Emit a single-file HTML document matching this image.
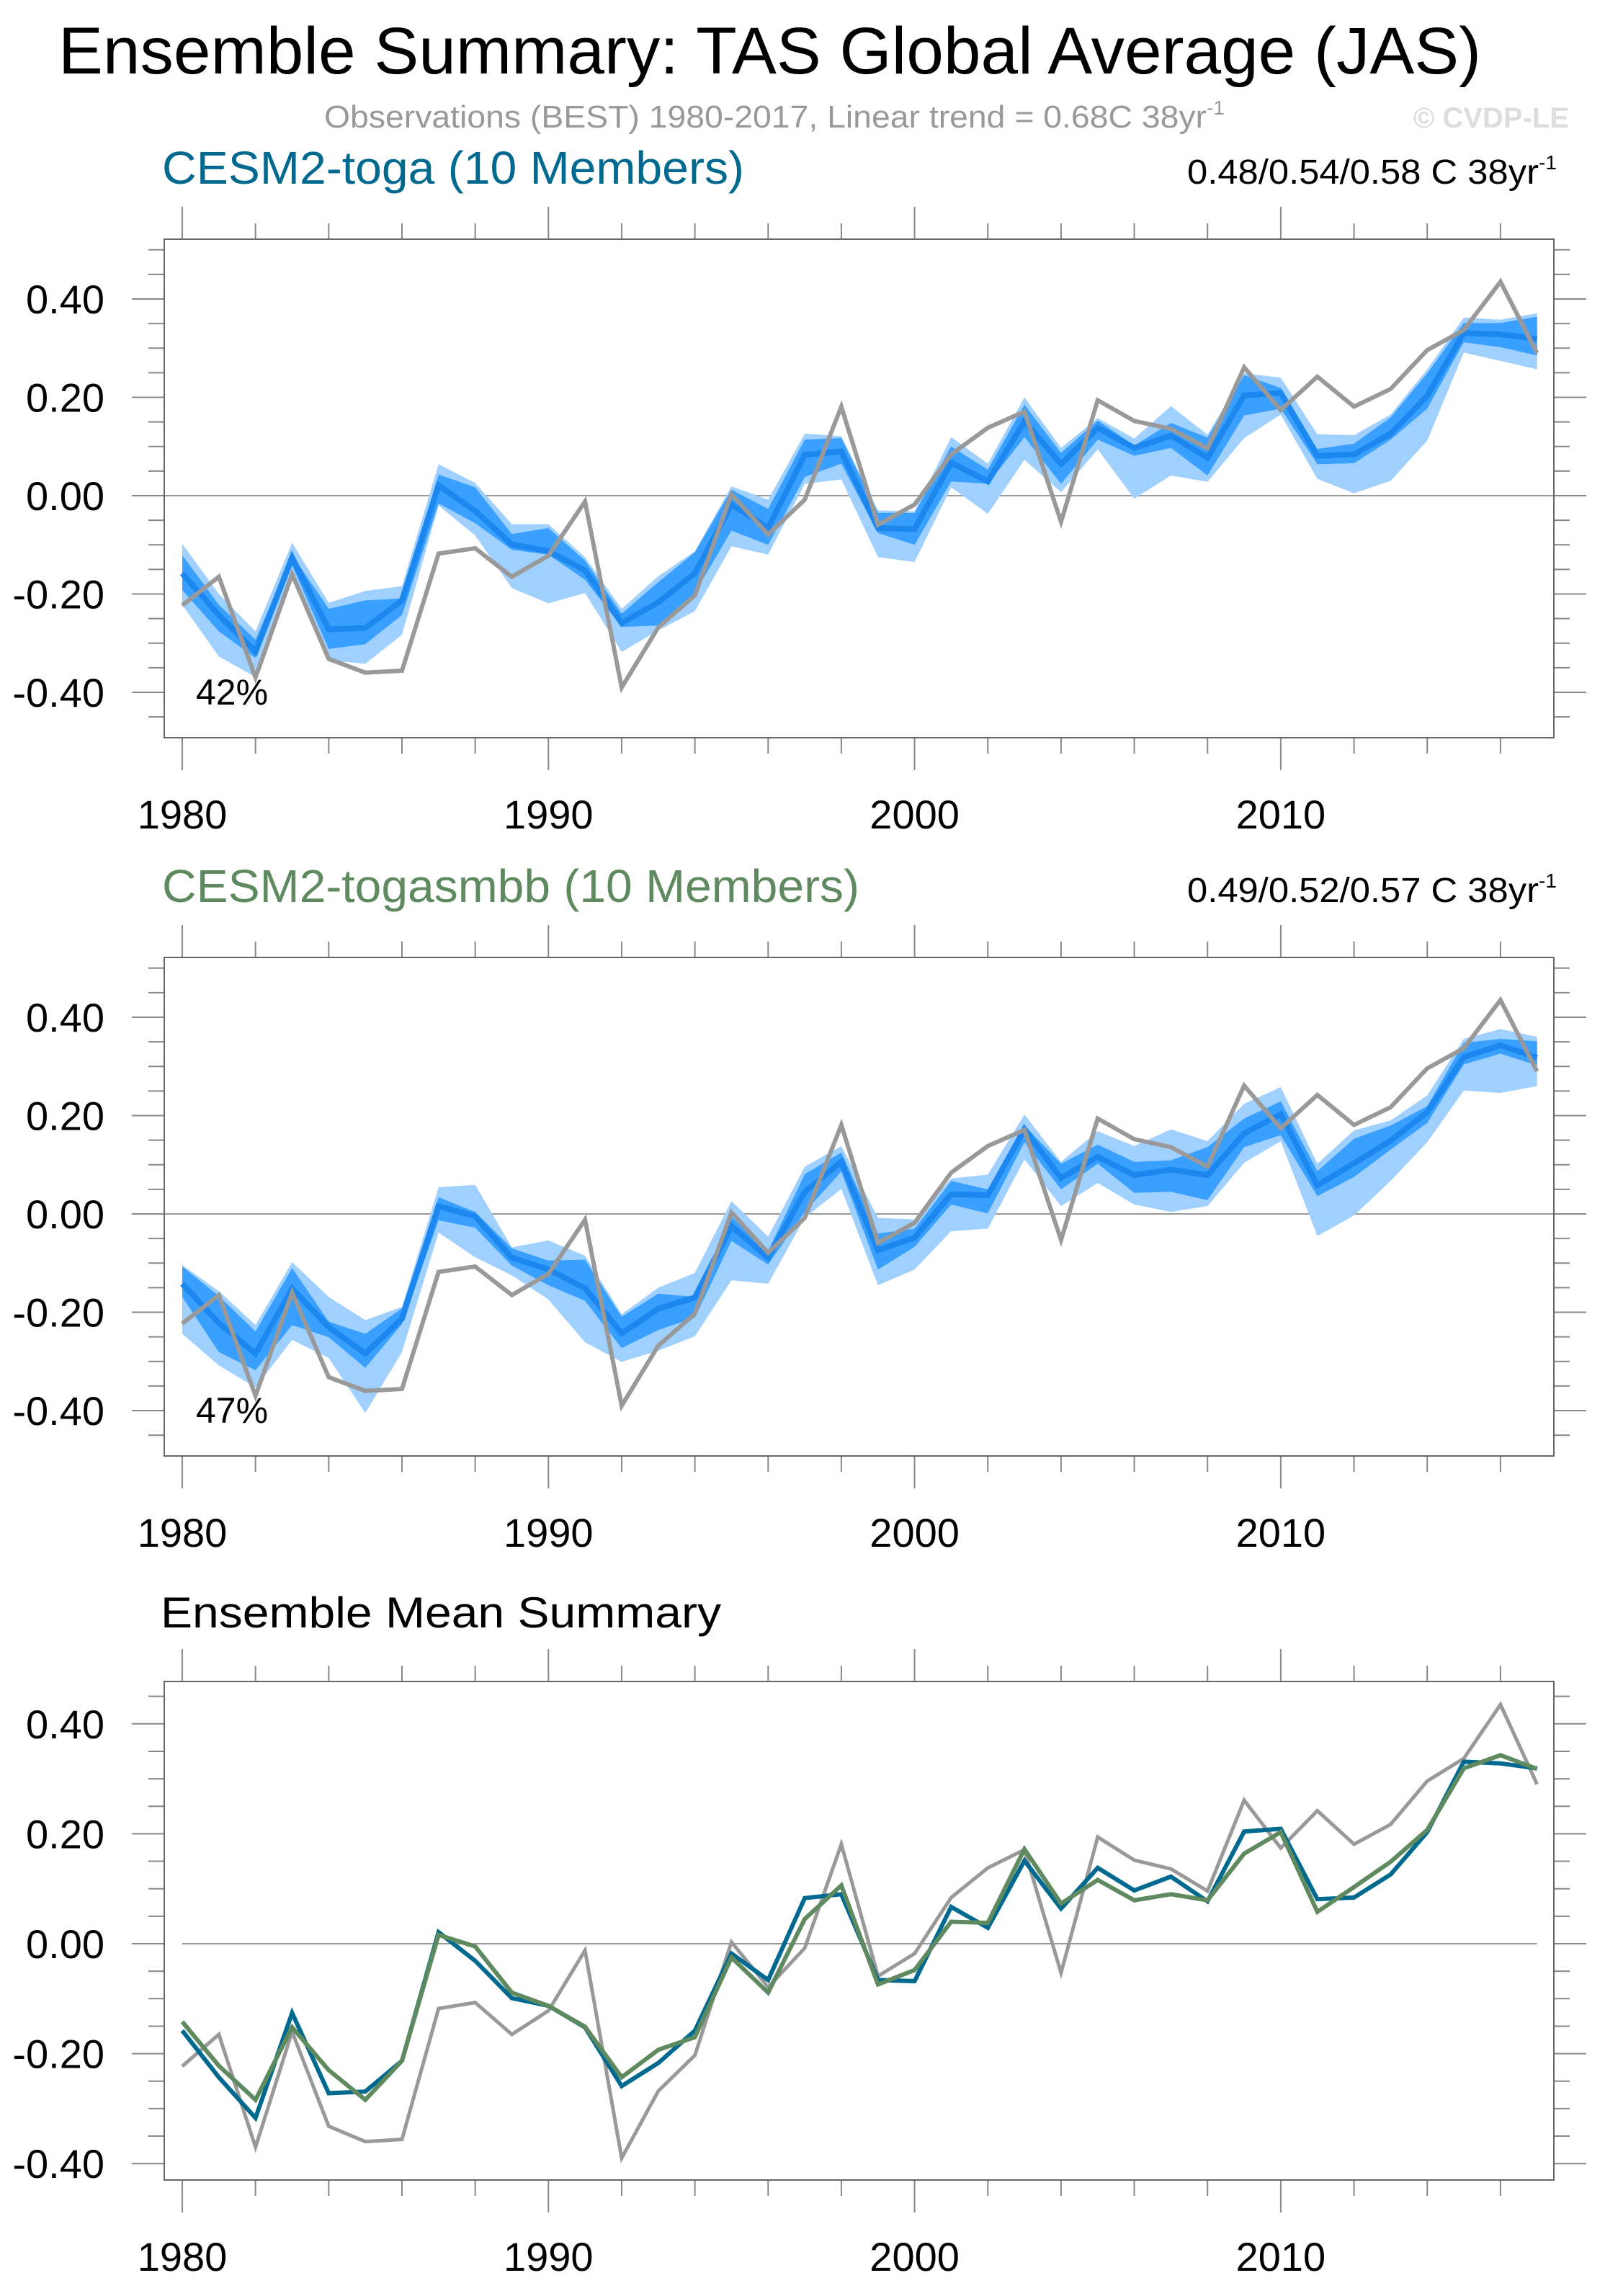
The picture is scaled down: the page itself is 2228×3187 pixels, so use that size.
<!DOCTYPE html>
<html><head><meta charset="utf-8"><title>Ensemble Summary</title>
<style>html,body{margin:0;padding:0;background:#fff}svg{display:block}</style></head>
<body>
<svg id="chart" xmlns="http://www.w3.org/2000/svg" width="2228" height="3187" viewBox="0 0 2228 3187" font-family="Liberation Sans, Arial, sans-serif">
<rect width="2228" height="3187" fill="#fff"/>
<text x="81" y="102" font-size="92" textLength="1975" lengthAdjust="spacingAndGlyphs">Ensemble Summary: TAS Global Average (JAS)</text>
<text x="450" y="177" font-size="44" fill="#999"><tspan textLength="1225" lengthAdjust="spacingAndGlyphs">Observations (BEST) 1980-2017, Linear trend = 0.68C 38yr</tspan><tspan dy="-18" font-size="28">-1</tspan></text>
<text x="2178" y="177" font-size="40" font-weight="bold" fill="#ddd" text-anchor="end">© CVDP-LE</text>
<text x="225" y="255" font-size="64" fill="#00698f" textLength="808" lengthAdjust="spacingAndGlyphs">CESM2-toga (10 Members)</text>
<text x="1648" y="255" font-size="48"><tspan textLength="488" lengthAdjust="spacingAndGlyphs">0.48/0.54/0.58 C 38yr</tspan><tspan dy="-20" font-size="28">-1</tspan></text>
<text x="225" y="1252" font-size="64" fill="#5f8a5f" textLength="968" lengthAdjust="spacingAndGlyphs">CESM2-togasmbb (10 Members)</text>
<text x="1648" y="1252" font-size="48"><tspan textLength="488" lengthAdjust="spacingAndGlyphs">0.49/0.52/0.57 C 38yr</tspan><tspan dy="-20" font-size="28">-1</tspan></text>
<text x="223" y="2259" font-size="60" textLength="778" lengthAdjust="spacingAndGlyphs">Ensemble Mean Summary</text>
<g id="plots"></g>
</svg>
<script>
const years = [];
for (let y = 1980; y <= 2017; y++) years.push(y);
const obs = [-0.223,-0.165,-0.37,-0.16,-0.332,-0.36,-0.356,-0.118,-0.107,-0.165,-0.122,-0.012,-0.39,-0.268,-0.203,0.003,-0.079,-0.008,0.181,-0.059,-0.018,0.084,0.138,0.171,-0.053,0.194,0.152,0.136,0.096,0.261,0.174,0.242,0.181,0.217,0.296,0.337,0.435,0.29];
const togaMean = [-0.158,-0.243,-0.317,-0.126,-0.272,-0.269,-0.213,0.021,-0.031,-0.099,-0.113,-0.152,-0.259,-0.217,-0.158,-0.018,-0.066,0.083,0.09,-0.066,-0.068,0.067,0.029,0.151,0.064,0.138,0.097,0.122,0.077,0.204,0.209,0.081,0.084,0.126,0.203,0.331,0.328,0.319];
const togaMax = [-0.098,-0.2,-0.276,-0.096,-0.218,-0.194,-0.184,0.064,0.026,-0.058,-0.058,-0.125,-0.23,-0.164,-0.113,0.019,-0.008,0.126,0.121,-0.03,-0.032,0.119,0.065,0.2,0.097,0.158,0.116,0.182,0.124,0.249,0.24,0.125,0.123,0.165,0.257,0.362,0.358,0.371];
const togaHi = [-0.121,-0.222,-0.293,-0.121,-0.23,-0.213,-0.209,0.043,0.017,-0.078,-0.066,-0.132,-0.24,-0.176,-0.115,0.012,-0.027,0.114,0.117,-0.035,-0.035,0.1,0.053,0.185,0.087,0.153,0.102,0.148,0.118,0.245,0.219,0.095,0.106,0.159,0.249,0.351,0.351,0.364];
const togaLo = [-0.192,-0.276,-0.33,-0.142,-0.312,-0.302,-0.243,-0.016,-0.056,-0.11,-0.12,-0.171,-0.267,-0.264,-0.198,-0.071,-0.1,0.038,0.065,-0.076,-0.1,0.029,0.024,0.119,0.024,0.114,0.081,0.097,0.041,0.163,0.177,0.064,0.066,0.114,0.177,0.312,0.302,0.285];
const togaMin = [-0.222,-0.327,-0.369,-0.155,-0.335,-0.342,-0.283,-0.02,-0.081,-0.188,-0.219,-0.198,-0.318,-0.274,-0.235,-0.103,-0.12,0.024,0.033,-0.125,-0.135,0.017,-0.037,0.073,0.007,0.094,-0.006,0.041,0.028,0.117,0.165,0.034,0.005,0.03,0.112,0.291,0.274,0.257];
const smbbMean = [-0.142,-0.222,-0.284,-0.152,-0.23,-0.284,-0.213,0.016,-0.005,-0.089,-0.113,-0.151,-0.243,-0.193,-0.17,-0.025,-0.089,0.045,0.106,-0.074,-0.048,0.04,0.038,0.172,0.073,0.116,0.079,0.09,0.079,0.164,0.203,0.058,0.103,0.149,0.207,0.319,0.343,0.318];
const smbbMax = [-0.104,-0.157,-0.226,-0.098,-0.169,-0.216,-0.189,0.054,0.059,-0.068,-0.054,-0.085,-0.204,-0.15,-0.12,0.026,-0.046,0.096,0.138,-0.008,-0.011,0.072,0.08,0.202,0.106,0.168,0.138,0.172,0.148,0.224,0.258,0.102,0.17,0.19,0.241,0.356,0.376,0.36];
const smbbHi = [-0.107,-0.167,-0.239,-0.11,-0.219,-0.244,-0.192,0.034,0.004,-0.07,-0.095,-0.093,-0.209,-0.162,-0.169,-0.006,-0.075,0.081,0.125,-0.04,-0.03,0.067,0.05,0.18,0.102,0.141,0.106,0.109,0.136,0.194,0.229,0.087,0.153,0.18,0.219,0.348,0.356,0.351];
const smbbLo = [-0.169,-0.281,-0.318,-0.226,-0.251,-0.313,-0.224,-0.013,-0.028,-0.105,-0.145,-0.177,-0.273,-0.236,-0.211,-0.055,-0.103,0.004,0.086,-0.113,-0.067,0.019,0.001,0.146,0.05,0.102,0.043,0.045,0.028,0.136,0.16,0.036,0.075,0.131,0.185,0.304,0.326,0.302];
const smbbMin = [-0.244,-0.308,-0.353,-0.256,-0.293,-0.405,-0.281,-0.038,-0.088,-0.125,-0.174,-0.261,-0.301,-0.278,-0.249,-0.135,-0.142,-0.008,0.051,-0.145,-0.113,-0.035,-0.03,0.111,0.016,0.063,0.019,0.004,0.016,0.104,0.148,-0.045,-0.003,0.067,0.146,0.251,0.246,0.26];
const yTicks = [0.4,0.2,0,-0.2,-0.4];
const yTickLabels = ["0.40","0.20","0.00","-0.20","-0.40"];
const xTickYears = [1980,1990,2000,2010];

const NS = "http://www.w3.org/2000/svg";
const root = document.getElementById('plots');
function mk(tag, attrs, parent) {
  const e = document.createElementNS(NS, tag);
  for (const k in attrs) e.setAttribute(k, attrs[k]);
  (parent || root).appendChild(e);
  return e;
}
const X0 = 253, PXY = 50.83, LEFT = 228, RIGHT = 2157;
function xs(yr) { return X0 + (yr - 1980) * PXY; }

function axes(p, name) {
  const ys = v => p.zero - v * p.scale;
  const g = mk('g', {});
  
  
  const zl = mk('line', {x1: p.zx1, x2: p.zx2, y1: ys(0), y2: ys(0), stroke: '#999', 'stroke-width': 2}, g);
  
  
  for (let k = -10; k <= 10; k++) {
    const v = k * 0.05, y = ys(v);
    if (y < p.top + 2 || y > p.bottom - 2) continue;
    const major = Math.abs(k % 4) === 0;
    const len = major ? 45 : 22;
    mk('line', {x1: LEFT - len, x2: LEFT, y1: y, y2: y, stroke: '#888', 'stroke-width': 2}, g);
    mk('line', {x1: RIGHT, x2: RIGHT + len, y1: y, y2: y, stroke: '#888', 'stroke-width': 2}, g);
  }
  yTicks.forEach((v, i) => {
    const t = mk('text', {x: 145, y: ys(v) + 20, 'font-size': 56, 'text-anchor': 'end'}, g);
    
    
    t.textContent = yTickLabels[i];
  });
  for (let yr = 1980; yr <= 2016; yr += 2) {
    const x = xs(yr), major = (yr % 10 === 0);
    const len = major ? 45 : 22;
    mk('line', {x1: x, x2: x, y1: p.top - len, y2: p.top, stroke: '#888', 'stroke-width': 2}, g);
    mk('line', {x1: x, x2: x, y1: p.bottom, y2: p.bottom + len, stroke: '#888', 'stroke-width': 2}, g);
  }
  xTickYears.forEach(yr => {
    const t = mk('text', {x: xs(yr), y: p.bottom + 126, 'font-size': 56, 'text-anchor': 'middle'}, g);
    
    
    t.textContent = String(yr);
  });
  const box = mk('rect', {x: LEFT, y: p.top, width: RIGHT - LEFT, height: p.bottom - p.top, fill: 'none', stroke: '#666', 'stroke-width': 2}, g);
  
  
  return ys;
}
function band(ys, lo, hi, fill, name) {
  let d = '';
  years.forEach((yr, i) => { d += (i ? 'L' : 'M') + xs(yr).toFixed(1) + ',' + ys(hi[i]).toFixed(1); });
  for (let i = years.length - 1; i >= 0; i--) d += 'L' + xs(years[i]).toFixed(1) + ',' + ys(lo[i]).toFixed(1);
  const e = mk('path', {d: d + 'Z', fill: fill, stroke: 'none'});
  
  
}
function line(ys, vals, color, w, name) {
  const pts = years.map((yr, i) => xs(yr).toFixed(1) + ',' + ys(vals[i]).toFixed(1)).join(' ');
  const e = mk('polyline', {points: pts, fill: 'none', stroke: color, 'stroke-width': w, 'stroke-linejoin': 'miter'});
  
  
}
function pct(y, txt, name) {
  const t = mk('text', {x: 272, y: y, 'font-size': 50});
  
  
  t.textContent = txt;
}

const p1 = {zero: 688, scale: 682.5, top: 332, bottom: 1024, zx1: LEFT, zx2: RIGHT};
const ys1 = axes(p1, 'panel1');
band(ys1, togaMin, togaMax, '#a0d0fd', 'panel1-minmax-band');
band(ys1, togaLo, togaHi, '#3aa0ff', 'panel1-iqr-band');
line(ys1, togaMean, '#1c87ee', 8, 'panel1-ensemble-mean-line');
line(ys1, obs, '#999', 6, 'panel1-observations-line');
pct(978, '42%', 'panel1-percent-label');

const p2 = {zero: 1685, scale: 682.5, top: 1329, bottom: 2021, zx1: LEFT, zx2: RIGHT};
const ys2 = axes(p2, 'panel2');
band(ys2, smbbMin, smbbMax, '#a0d0fd', 'panel2-minmax-band');
band(ys2, smbbLo, smbbHi, '#3aa0ff', 'panel2-iqr-band');
line(ys2, smbbMean, '#1c87ee', 8, 'panel2-ensemble-mean-line');
line(ys2, obs, '#999', 6, 'panel2-observations-line');
pct(1975, '47%', 'panel2-percent-label');

const p3 = {zero: 2698, scale: 763, top: 2334, bottom: 3026, zx1: X0, zx2: xs(2017)};
const ys3 = axes(p3, 'panel3');
line(ys3, obs, '#999', 5, 'panel3-observations-line');
line(ys3, togaMean, '#00698f', 6, 'panel3-toga-mean-line');
line(ys3, smbbMean, '#5f8a5f', 6, 'panel3-togasmbb-mean-line');
</script>
</body></html>
